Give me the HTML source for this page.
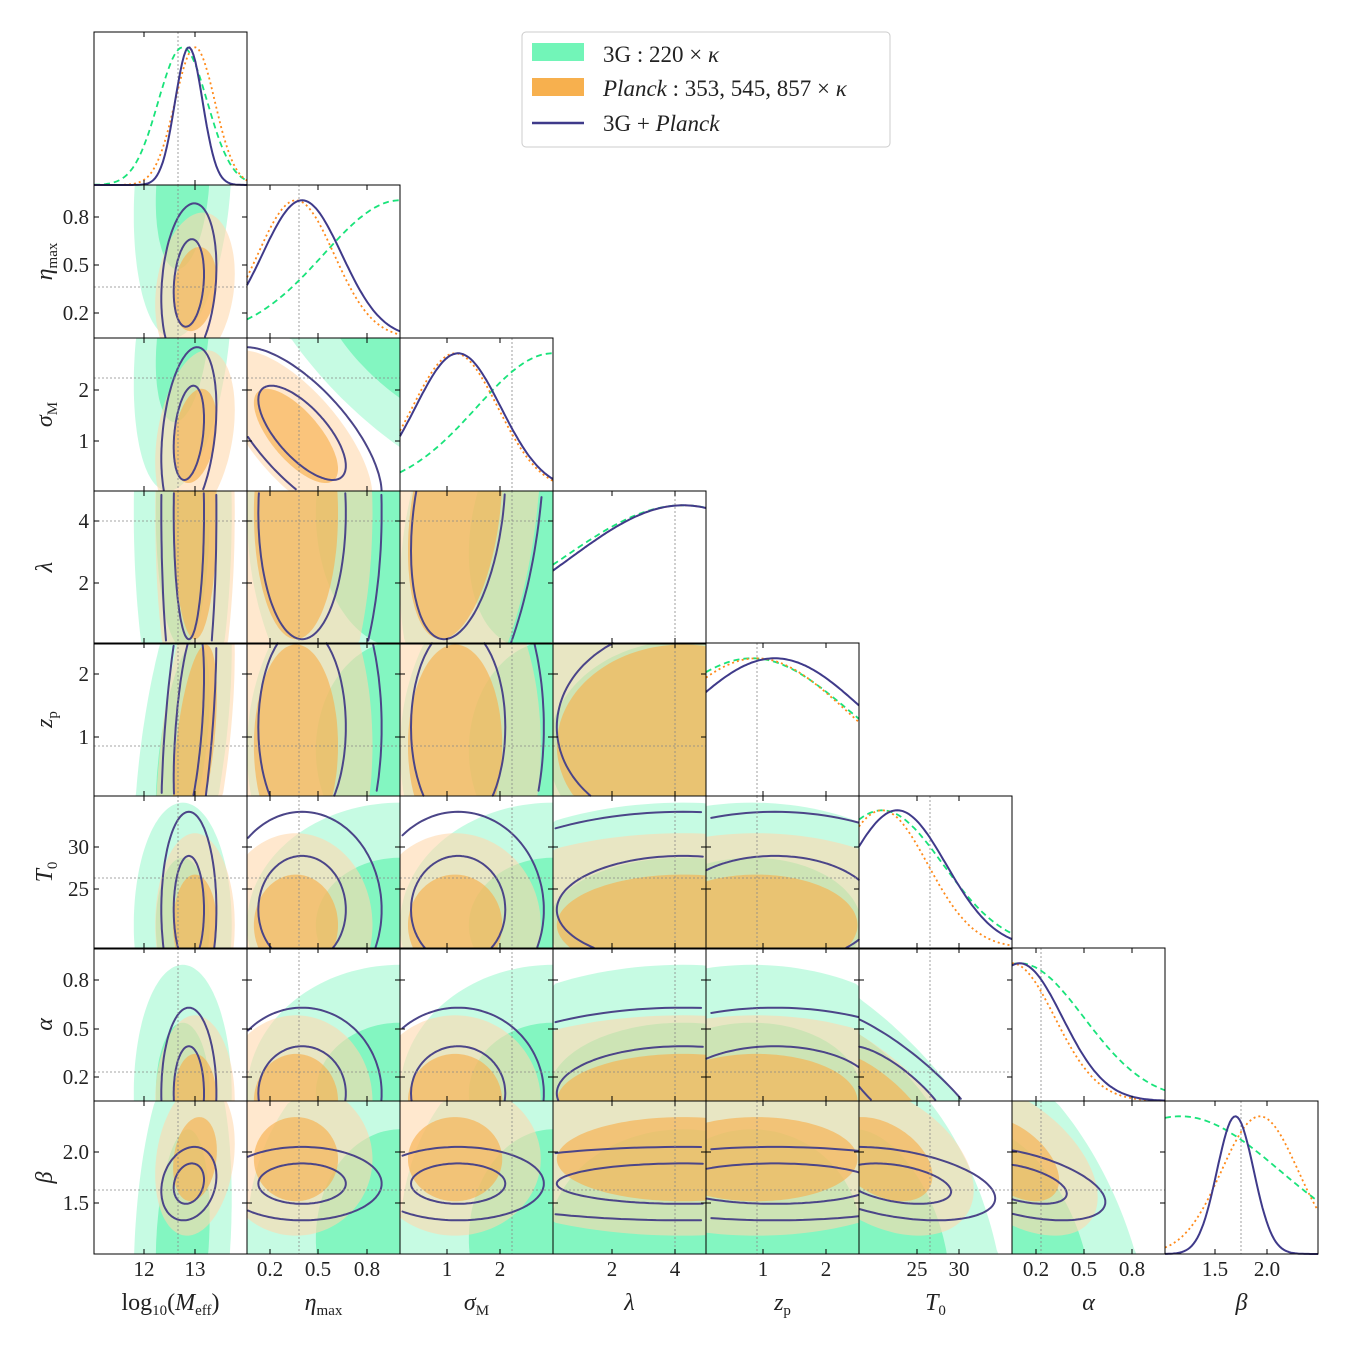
<!DOCTYPE html>
<html><head><meta charset="utf-8"><style>
html,body{margin:0;padding:0;background:#fff;width:1350px;height:1350px;overflow:hidden;}
svg{display:block;}
svg text{font-family:"Liberation Serif",serif;fill:#222;}
</style></head><body>
<svg id="s" width="1350" height="1350" xmlns="http://www.w3.org/2000/svg"></svg>
<script>
const S=document.getElementById('s');
let h='';
const X=[94,247,400,553,706,859,1012,1165,1319];
const Y=[32,185,338,491,643,796,948,1101,1254];
const W=153;
const P=[
 [[0.58,0.16],[0.66,0.13],[0.62,0.09]],
 [[1.0,0.5],[0.32,0.25],[0.36,0.26]],
 [[1.0,0.5],[0.36,0.28],[0.38,0.28]],
 [[0.85,0.8],[0.85,0.75],[0.85,0.75]],
 [[0.3,0.65],[0.33,0.6],[0.45,0.6]],
 [[0.15,0.4],[0.15,0.3],[0.25,0.32]],
 [[0.05,0.42],[0.0,0.28],[0.05,0.28]],
 [[0.1,0.65],[0.62,0.25],[0.46,0.12]]
];
const corr={'1,2':-0.7,'0,1':0.2,'0,2':0.3,'5,6':-0.8,'6,7':-0.5,'5,7':-0.4,'0,4':0.5,'2,3':0.3,'0,7':0.2};
const truthX=[178,299,512,675,757,930,1041,1241];
const truthY=[null,287,378,521,746,878,1072,1190];
function ellPts(cx,cy,sx,sy,r,k){
 let pts=[];
 for(let t=0;t<160;t++){const a=t/160*2*Math.PI;
  const u=Math.cos(a),v=Math.sin(a);
  pts.push([cx+k*sx*u, cy+k*sy*(r*u+Math.sqrt(1-r*r)*v)]);}
 return pts;
}
function clampStr(pts,x0,y0,x1,y1){
 return pts.map(p=>Math.min(x1,Math.max(x0,p[0])).toFixed(1)+','+Math.min(y1,Math.max(y0,p[1])).toFixed(1)).join(' ');
}
function inside(p,x0,y0,x1,y1){return p[0]>=x0&&p[0]<=x1&&p[1]>=y0&&p[1]<=y1;}
function linePath(pts,x0,y0,x1,y1){
 let d='',n=pts.length;
 for(let t=0;t<n;t++){const a=pts[t],b=pts[(t+1)%n];
  if(inside(a,x0,y0,x1,y1)&&inside(b,x0,y0,x1,y1)) d+=`M${a[0].toFixed(1)},${a[1].toFixed(1)}L${b[0].toFixed(1)},${b[1].toFixed(1)}`;}
 return d;
}
const fills=[['#b8fadc','#72f5b8'],['#ffd9ae','#f7b04e']];
for(let i=1;i<8;i++)for(let j=0;j<i;j++){
 const r=corr[j+','+i]||0;
 const x0=X[j],x1=X[j+1],y0=Y[i],y1=Y[i+1];
 let g='<g>';
 for(let d=0;d<2;d++){
  const [cx,sx]=P[j][d],[cy,sy]=P[i][d];
  const px=X[j]+cx*W, py=Y[i+1]-cy*W;
  g+=`<polygon points="${clampStr(ellPts(px,py,sx*W,-sy*W,r,2.0),x0,y0,x1,y1)}" fill="${fills[d][0]}" fill-opacity="${d?0.6:0.8}"/>`;
  g+=`<polygon points="${clampStr(ellPts(px,py,sx*W,-sy*W,r,1.1),x0,y0,x1,y1)}" fill="${fills[d][1]}" fill-opacity="${d?0.65:0.8}"/>`;
 }
 const [cx,sx]=P[j][2],[cy,sy]=P[i][2];
 const px=X[j]+cx*W, py=Y[i+1]-cy*W;
 for(const k of [2.0,1.1]){const d=linePath(ellPts(px,py,sx*W,-sy*W,r,k),x0,y0,x1,y1); if(d) g+=`<path d="${d}" fill="none" stroke="#4b4588" stroke-width="2" stroke-linecap="round"/>`;}
 g+=`<line x1="${truthX[j]}" y1="${Y[i]}" x2="${truthX[j]}" y2="${Y[i+1]}" stroke="#888" stroke-width="0.8" stroke-dasharray="2,2"/>`;
 g+=`<line x1="${X[j]}" y1="${truthY[i]}" x2="${X[j+1]}" y2="${truthY[i]}" stroke="#888" stroke-width="0.8" stroke-dasharray="2,2"/>`;
 g+='</g>';
 h+=g;
}
const st=[['#19e37a','6,4'],['#ff8a1a','2,3'],['#3f3a8a','']];
for(let i=0;i<8;i++){
 let g='<g>';
 g+=`<line x1="${truthX[i]}" y1="${Y[i]}" x2="${truthX[i]}" y2="${Y[i+1]}" stroke="#888" stroke-width="0.8" stroke-dasharray="2,2"/>`;
 for(let d=0;d<3;d++){
  const [c,s]=P[i][d];let pts=[];
  for(let t=0;t<=80;t++){const f=t/80;const v=Math.exp(-0.5*((f-c)/s)**2);
   pts.push((X[i]+f*W).toFixed(1)+','+Math.max(Y[i],Y[i+1]-v*W*0.9).toFixed(1));}
  g+=`<polyline points="${pts.join(' ')}" fill="none" stroke="${st[d][0]}" stroke-width="${d==2?2:1.8}" ${st[d][1]?`stroke-dasharray="${st[d][1]}"`:''}/>`;
 }
 g+='</g>';h+=g;
}
for(let i=0;i<8;i++)for(let j=0;j<=i;j++){
 h+=`<rect x="${X[j]}" y="${Y[i]}" width="${W}" height="${W}" fill="none" stroke="#000" stroke-width="1"/>`;
}
const xt=[[[144,'12'],[195,'13']],[[270,'0.2'],[318,'0.5'],[367,'0.8']],[[447,'1'],[500,'2']],[[612,'2'],[675,'4']],[[763,'1'],[826,'2']],[[917,'25'],[959,'30']],[[1036,'0.2'],[1084,'0.5'],[1132,'0.8']],[[1215,'1.5'],[1267,'2.0']]];
const yt=[[],[[217,'0.8'],[265,'0.5'],[313,'0.2']],[[390,'2'],[441,'1']],[[521,'4'],[583,'2']],[[674,'2'],[737,'1']],[[847,'30'],[889,'25']],[[980,'0.8'],[1029,'0.5'],[1077,'0.2']],[[1152,'2.0'],[1203,'1.5']]];
for(let j=0;j<8;j++){for(const [x,l] of xt[j]){
 for(let i=j;i<8;i++){h+=`<line x1="${x}" y1="${Y[i+1]}" x2="${x}" y2="${Y[i+1]-5}" stroke="#000"/><line x1="${x}" y1="${Y[i]}" x2="${x}" y2="${Y[i]+5}" stroke="#000"/>`;}
 h+=`<text x="${x}" y="1276" font-size="21" text-anchor="middle">${l}</text>`;}}
for(let i=1;i<8;i++){for(const [y,l] of yt[i]){
 for(let j=0;j<i;j++){h+=`<line x1="${X[j]}" y1="${y}" x2="${X[j]+5}" y2="${y}" stroke="#000"/><line x1="${X[j+1]}" y1="${y}" x2="${X[j+1]-5}" y2="${y}" stroke="#000"/>`;}
 h+=`<text x="89" y="${y+7}" font-size="21" text-anchor="end">${l}</text>`;}}
const xl=['log<tspan font-size="15" dy="5">10</tspan><tspan dy="-5">(</tspan><tspan font-style="italic">M</tspan><tspan font-size="15" dy="5">eff</tspan><tspan dy="-5">)</tspan>',
'<tspan font-style="italic">η</tspan><tspan font-size="15" dy="5">max</tspan>',
'<tspan font-style="italic">σ</tspan><tspan font-size="15" dy="5">M</tspan>',
'<tspan font-style="italic">λ</tspan>',
'<tspan font-style="italic">z</tspan><tspan font-size="15" dy="5">p</tspan>',
'<tspan font-style="italic">T</tspan><tspan font-size="15" dy="5">0</tspan>',
'<tspan font-style="italic">α</tspan>',
'<tspan font-style="italic">β</tspan>'];
for(let j=0;j<8;j++)h+=`<text x="${X[j]+W/2}" y="1310" font-size="24" text-anchor="middle">${xl[j]}</text>`;
for(let i=1;i<8;i++){const cy=(Y[i]+Y[i+1])/2;
 h+=`<text transform="translate(52,${cy}) rotate(-90)" font-size="24" text-anchor="middle">${xl[i]}</text>`;}
h+=`<rect x="522" y="32" width="368" height="115" rx="4" fill="#fff" stroke="#ccc"/>
<rect x="532" y="43" width="52" height="18" fill="#72f5b8"/>
<rect x="532" y="78" width="52" height="18" fill="#f7b04e"/>
<line x1="532" y1="123" x2="584" y2="123" stroke="#3f3a8a" stroke-width="2.5"/>
<text x="603" y="62" font-size="23">3G : 220 × <tspan font-style="italic">κ</tspan></text>
<text x="603" y="96" font-size="23"><tspan font-style="italic">Planck</tspan> : 353, 545, 857 × <tspan font-style="italic">κ</tspan></text>
<text x="603" y="131" font-size="23">3G + <tspan font-style="italic">Planck</tspan></text>`;
S.innerHTML=h;
</script>
</body></html>
